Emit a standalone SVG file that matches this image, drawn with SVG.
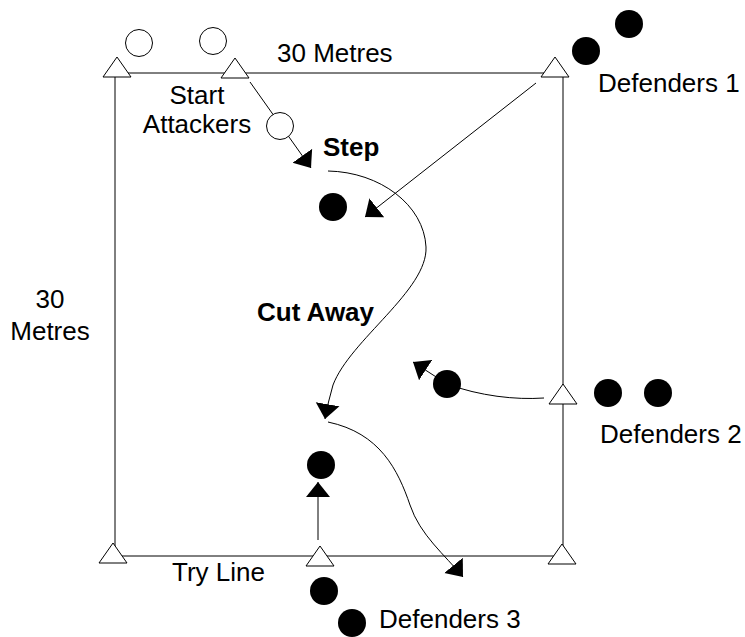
<svg xmlns="http://www.w3.org/2000/svg" width="745" height="637" viewBox="0 0 745 637">
<style>
  .t { font-family: "Liberation Sans", Arial, Helvetica, sans-serif; font-size: 26px; fill: #000; }
  .b { font-weight: bold; }
  .cone { fill: #fff; stroke: #000; stroke-width: 1; }
  .att { fill: #fff; stroke: #000; stroke-width: 1; }
  .def { fill: #000; stroke: none; }
  .field { stroke: #000; stroke-width: 1; fill: none; }
  .run { stroke: #000; stroke-width: 1; fill: none; marker-end: url(#ah); }
</style>
<defs>
  <marker id="ah" markerUnits="userSpaceOnUse" markerWidth="16" markerHeight="26" viewBox="0 -12 16 24" refX="15" refY="0" orient="auto">
    <path d="M0,-12 L15,0 L0,12 Z" fill="#000"/>
  </marker>
</defs>
<rect width="745" height="637" fill="#fff"/>

<g id="field">
  <line class="field" x1="115" y1="73" x2="563" y2="73"/>
  <line class="field" x1="115" y1="73" x2="115" y2="556"/>
  <line class="field" x1="563" y1="73" x2="563" y2="556"/>
  <line class="field" x1="115" y1="556" x2="563" y2="556"/>
</g>

<g id="connectors">
  <path id="c-start" class="run" d="M250,82 L311,168"/>
  <path id="c-d1" class="run" d="M536,83 L365,217"/>
  <path id="c-step" class="run" d="M328,171 C380,172 424,205 426,247 C428,290 350,340 333,385 Q328,402 325,419"/>
  <path id="c-cut" class="run" d="M328,422 C380,433 398,470 410,505 C420,535 445,555 463,577"/>
  <path id="c-d2" class="run" d="M544,398 C515,400 480,396 447,384 L413,362"/>
  <path id="c-d3" class="run" d="M318,540 L318,482"/>
</g>

<g id="cone-tl"><polygon class="cone" points="117,57 103,77 131,77"/></g>
<g id="cone-start"><polygon class="cone" points="235,58 221,78 249,78"/></g>
<g id="cone-tr"><polygon class="cone" points="555,57 541,77 569,77"/></g>
<g id="cone-r"><polygon class="cone" points="563,384 549,404 577,404"/></g>
<g id="cone-bl"><polygon class="cone" points="113,543 99,563 127,563"/></g>
<g id="cone-bm"><polygon class="cone" points="320,546 306,566 334,566"/></g>
<g id="cone-br"><polygon class="cone" points="562,544 548,564 576,564"/></g>

<g id="attacker-1"><circle class="att" cx="139" cy="43" r="13.5"/></g>
<g id="attacker-2"><circle class="att" cx="213" cy="41" r="13.5"/></g>
<g id="attacker-3"><circle class="att" cx="280" cy="126" r="13.5"/></g>

<g id="defender-step"><circle class="def" cx="333" cy="207" r="14"/></g>
<g id="defenders-1">
  <circle class="def" cx="586" cy="51" r="14"/>
  <circle class="def" cx="629" cy="24" r="14"/>
</g>
<g id="defender-2-runner"><circle class="def" cx="447" cy="384" r="14"/></g>
<g id="defenders-2">
  <circle class="def" cx="608" cy="393" r="14"/>
  <circle class="def" cx="658" cy="393" r="14"/>
</g>
<g id="defender-3-runner"><circle class="def" cx="321" cy="465" r="14"/></g>
<g id="defenders-3">
  <circle class="def" cx="324" cy="591" r="14"/>
  <circle class="def" cx="352" cy="623" r="14"/>
</g>

<g id="labels">
  <text class="t" x="277" y="62">30 Metres</text>
  <text class="t" x="598" y="92">Defenders 1</text>
  <text class="t" x="197" y="104" text-anchor="middle">Start</text>
  <text class="t" x="197" y="133" text-anchor="middle">Attackers</text>
  <text class="t b" x="323" y="156">Step</text>
  <text class="t" x="50" y="308" text-anchor="middle">30</text>
  <text class="t" x="50" y="340" text-anchor="middle">Metres</text>
  <text class="t b" x="257" y="321">Cut Away</text>
  <text class="t" x="600" y="443">Defenders 2</text>
  <text class="t" x="172" y="581">Try Line</text>
  <text class="t" x="379" y="628">Defenders 3</text>
</g>
</svg>
